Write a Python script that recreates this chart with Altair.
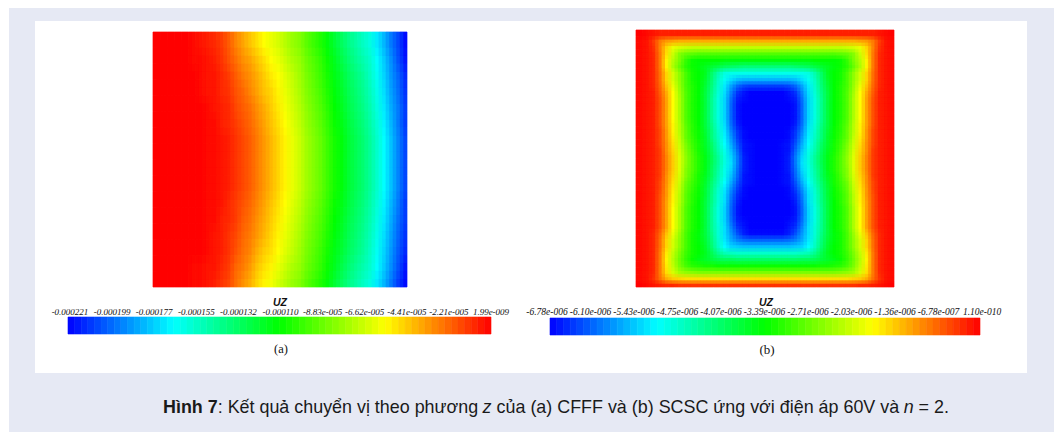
import altair as alt
import pandas as pd

# ---------------- data ----------------
# UZ field of panel (a) CFFF: 16 rows (top -> bottom) x 36 columns (left -> right),
# given as percent of the colour-bar range (0 = -0.000221, 100 = 1.99e-009)
uz_a_pct = [
    [100,100,100,100,100,99,98,97,96,94,91,87,84,81,78,75,73,71,68,65,63,59,56,53,49,45,41,37,34,31,28,23,18,12,7,1],
    [100,100,100,100,100,99,99,98,97,95,92,89,86,84,81,78,75,73,70,67,65,61,58,55,51,47,43,39,36,33,30,25,20,14,8,2],
    [100,100,100,100,100,100,99,98,98,96,94,91,88,86,83,80,77,75,72,69,66,62,59,56,52,48,45,41,38,35,31,26,21,15,10,4],
    [100,100,100,100,100,100,99,98,98,96,95,92,90,87,84,81,79,76,73,70,67,63,60,57,53,49,46,42,39,36,32,27,22,16,11,5],
    [100,100,100,100,100,100,100,99,98,97,96,93,91,89,86,83,80,77,74,71,68,64,61,58,54,50,47,43,40,37,33,28,23,17,12,6],
    [100,100,100,100,100,100,100,99,99,97,96,94,92,90,87,84,81,78,75,72,69,65,62,59,55,51,48,44,41,38,34,29,24,18,12,6],
    [100,100,100,100,100,100,100,99,99,98,97,95,93,91,88,85,82,79,76,73,70,66,63,60,56,52,49,45,42,39,35,30,25,19,13,7],
    [100,100,100,100,100,100,100,99,99,98,97,95,93,91,88,85,82,79,76,73,70,66,63,60,56,52,49,45,42,39,35,30,25,19,13,7],
    [100,100,100,100,100,100,100,99,99,98,97,95,93,91,88,85,82,79,76,73,70,66,63,60,56,52,49,45,42,39,35,30,25,19,13,7],
    [100,100,100,100,100,100,100,99,99,98,97,95,93,91,88,85,82,79,76,73,70,66,63,60,56,52,49,45,42,39,35,30,25,19,13,7],
    [100,100,100,100,100,100,100,99,99,98,96,94,92,90,87,84,81,78,75,72,69,65,62,59,55,51,48,44,41,38,34,29,24,18,12,6],
    [100,100,100,100,100,100,100,99,99,97,96,94,91,89,86,83,80,77,74,71,68,64,61,58,54,50,47,43,40,37,33,28,23,17,11,6],
    [100,100,100,100,100,100,100,99,98,97,95,93,90,88,85,82,79,76,73,70,67,63,60,57,53,49,46,42,39,36,32,27,22,16,10,5],
    [100,100,100,100,100,100,100,99,98,97,95,92,89,87,83,80,78,75,72,69,66,62,59,56,52,48,45,41,38,35,31,26,21,15,9,4],
    [100,100,100,100,100,99,99,98,98,96,94,90,88,85,81,78,76,73,70,67,65,61,58,55,51,47,43,39,36,33,30,25,20,14,8,2],
    [100,100,100,100,100,99,99,98,97,95,93,89,86,83,79,76,74,71,68,65,63,59,56,53,49,45,41,37,34,31,28,23,18,12,6,1],
]

# UZ field of panel (b) SCSC: 40 rows (top -> bottom) x 40 columns,
# percent of the colour-bar range (0 = -6.78e-006, 100 = 1.10e-010)
uz_b_pct = [
    [100,99,98,97,97,97,97,97,97,97,97,97,97,97,97,97,97,97,97,97,97,97,97,97,97,97,97,97,97,97,97,97,97,97,97,97,97,98,99,100],
    [99,98,94,88,85,84,83,83,83,83,83,83,83,83,83,83,83,83,83,83,83,83,83,83,83,83,83,83,83,83,83,83,83,83,84,85,88,94,98,99],
    [99,98,95,87,79,73,71,70,69,69,69,69,69,69,69,69,69,69,69,69,69,69,69,69,69,69,69,69,69,69,69,69,70,71,73,79,87,95,98,99],
    [99,98,96,88,78,70,63,60,59,58,58,58,58,58,58,58,58,58,58,58,58,58,58,58,58,58,58,58,58,58,58,59,60,63,70,78,88,96,98,99],
    [99,98,96,88,76,68,62,55,51,50,50,50,50,49,49,49,49,49,49,49,49,49,49,49,49,49,49,50,50,50,50,51,55,62,68,76,88,96,98,99],
    [99,98,96,88,76,67,60,54,51,49,47,45,43,41,40,39,38,38,38,38,38,38,38,38,39,40,41,43,45,47,49,51,54,60,67,76,88,96,98,99],
    [99,98,96,89,79,71,64,57,52,50,47,40,33,28,27,27,27,27,27,27,27,27,27,27,27,27,28,33,40,47,50,52,57,64,71,79,89,96,98,99],
    [99,98,96,89,79,71,64,57,52,50,46,39,31,26,22,19,18,18,18,18,18,18,18,18,19,22,26,31,39,46,50,52,57,64,71,79,89,96,98,99],
    [99,98,96,90,81,73,65,57,53,50,45,38,30,23,16,10,7,6,6,6,6,6,6,7,10,16,23,30,38,45,50,53,57,65,73,81,90,96,98,99],
    [99,98,97,91,83,75,66,58,53,50,44,37,29,22,13,5,2,0,0,0,0,0,0,2,5,13,22,29,37,44,50,53,58,66,75,83,91,97,98,99],
    [99,98,97,92,84,75,67,58,53,50,44,36,28,21,11,3,1,0,0,0,0,0,0,1,3,11,21,28,36,44,50,53,58,67,75,84,92,97,98,99],
    [99,98,97,92,84,75,67,58,53,50,44,36,28,21,10,2,0,0,0,0,0,0,0,0,2,10,21,28,36,44,50,53,58,67,75,84,92,97,98,99],
    [99,98,97,92,84,75,67,58,53,50,44,36,28,21,10,2,0,0,0,0,0,0,0,0,2,10,21,28,36,44,50,53,58,67,75,84,92,97,98,99],
    [99,98,97,92,84,75,67,58,53,50,44,36,28,21,10,2,0,0,0,0,0,0,0,0,2,10,21,28,36,44,50,53,58,67,75,84,92,97,98,99],
    [99,98,97,92,84,76,68,59,54,50,44,37,29,22,11,3,0,0,0,0,0,0,0,0,3,11,22,29,37,44,50,54,59,68,76,84,92,97,98,99],
    [99,98,97,93,85,76,68,60,54,51,45,38,30,23,13,5,1,0,0,0,0,0,0,1,5,13,23,30,38,45,51,54,60,68,76,85,93,97,98,99],
    [99,98,97,93,85,77,69,60,55,51,46,38,31,24,15,6,1,0,0,0,0,0,0,1,6,15,24,31,38,46,51,55,60,69,77,85,93,97,98,99],
    [99,98,97,93,86,78,70,62,56,52,46,40,32,25,17,8,2,1,0,0,0,0,1,2,8,17,25,32,40,46,52,56,62,70,78,86,93,97,98,99],
    [99,98,97,94,86,79,71,63,57,52,47,41,33,27,19,10,2,1,0,0,0,0,1,2,10,19,27,33,41,47,52,57,63,71,79,86,94,97,98,99],
    [99,98,97,94,87,80,72,64,58,53,48,42,35,28,21,12,3,1,0,0,0,0,1,3,12,21,28,35,42,48,53,58,64,72,80,87,94,97,98,99],
    [99,98,97,94,87,80,72,64,58,53,48,42,35,28,22,12,3,1,0,0,0,0,1,3,12,22,28,35,42,48,53,58,64,72,80,87,94,97,98,99],
    [99,98,97,94,87,80,72,63,58,53,48,41,34,27,21,11,3,1,0,0,0,0,1,3,11,21,27,34,41,48,53,58,63,72,80,87,94,97,98,99],
    [99,98,97,94,86,79,71,63,57,52,47,41,33,27,19,10,2,1,0,0,0,0,1,2,10,19,27,33,41,47,52,57,63,71,79,86,94,97,98,99],
    [99,98,97,93,86,78,70,61,56,52,46,39,32,25,17,8,2,1,0,0,0,0,1,2,8,17,25,32,39,46,52,56,61,70,78,86,93,97,98,99],
    [99,98,97,93,85,77,69,60,55,51,45,38,30,23,14,6,1,0,0,0,0,0,0,1,6,14,23,30,38,45,51,55,60,69,77,85,93,97,98,99],
    [99,98,97,92,85,76,68,59,54,51,45,37,29,22,12,4,1,0,0,0,0,0,0,1,4,12,22,29,37,45,51,54,59,68,76,85,92,97,98,99],
    [99,98,97,92,84,76,68,59,54,50,44,37,29,22,11,3,0,0,0,0,0,0,0,0,3,11,22,29,37,44,50,54,59,68,76,84,92,97,98,99],
    [99,98,97,92,84,75,67,58,53,50,44,36,28,21,10,2,0,0,0,0,0,0,0,0,2,10,21,28,36,44,50,53,58,67,75,84,92,97,98,99],
    [99,98,97,92,84,75,67,58,53,50,44,36,28,21,10,2,0,0,0,0,0,0,0,0,2,10,21,28,36,44,50,53,58,67,75,84,92,97,98,99],
    [99,98,97,92,84,75,67,58,53,50,44,36,28,21,11,3,1,0,0,0,0,0,0,1,3,11,21,28,36,44,50,53,58,67,75,84,92,97,98,99],
    [99,98,97,92,84,75,67,58,53,50,44,36,29,22,13,5,2,0,0,0,0,0,0,2,5,13,22,29,36,44,50,53,58,67,75,84,92,97,98,99],
    [99,98,96,90,81,73,65,57,52,49,44,37,29,22,15,8,3,1,1,1,1,1,1,3,8,15,22,29,37,44,49,52,57,65,73,81,90,96,98,99],
    [99,98,96,89,79,71,64,57,52,49,45,38,30,23,17,13,11,10,10,10,10,10,10,11,13,17,23,30,38,45,49,52,57,64,71,79,89,96,98,99],
    [99,98,96,89,79,71,64,57,52,50,46,39,31,25,21,20,19,19,19,19,19,19,19,19,20,21,25,31,39,46,50,52,57,64,71,79,89,96,98,99],
    [99,98,96,88,77,69,62,56,52,50,47,42,36,32,31,30,30,30,30,30,30,30,30,30,30,31,32,36,42,47,50,52,56,62,69,77,88,96,98,99],
    [99,98,96,88,76,68,61,55,51,48,46,44,42,41,41,40,40,40,40,40,40,40,40,40,40,41,41,42,44,46,48,51,55,61,68,76,88,96,98,99],
    [99,98,96,88,77,69,62,57,54,53,52,52,51,51,51,51,51,51,51,51,51,51,51,51,51,51,51,51,52,52,53,54,57,62,69,77,88,96,98,99],
    [99,98,96,88,78,71,66,64,63,62,62,62,62,62,62,62,62,62,62,62,62,62,62,62,62,62,62,62,62,62,62,63,64,66,71,78,88,96,98,99],
    [99,98,95,89,83,80,79,78,78,78,78,78,78,78,78,78,78,78,78,78,78,78,78,78,78,78,78,78,78,78,78,78,78,79,80,83,89,95,98,99],
    [100,99,98,97,96,96,95,95,95,95,95,95,95,95,95,95,95,95,95,95,95,95,95,95,95,95,95,95,95,95,95,95,95,95,96,96,97,98,99,100],
]

ticks_a = ["-0.000221", "-0.000199", "-0.000177", "-0.000155", "-0.000132", "-0.000110",
           "-8.83e-005", "-6.62e-005", "-4.41e-005", "-2.21e-005", "1.99e-009"]
ticks_b = ["-6.78e-006", "-6.10e-006", "-5.43e-006", "-4.75e-006", "-4.07e-006", "-3.39e-006",
           "-2.71e-006", "-2.03e-006", "-1.36e-006", "-6.78e-007", "1.10e-010"]
field_name = "UZ"
panel_names = ["(a)", "(b)"]
caption_bold = "Hình 7"
caption_1 = ": Kết quả chuyển vị theo phương"
caption_z = "z"
caption_2 = "của (a) CFFF và (b) SCSC ứng với điện áp 60V và"
caption_n = "n"
caption_3 = "= 2."

# ---------------- styling ----------------
RAINBOW_DOMAIN = [0, 25, 50, 75, 100]
RAINBOW = ["#0000ff", "#00ffff", "#00ff00", "#ffff00", "#ff0000"]
LAVENDER = "#e6e9f4"


def rainbow():
    return alt.Scale(domain=RAINBOW_DOMAIN, range=RAINBOW, interpolate="rgb", clamp=True)


def grid_frame(rows):
    recs = []
    for r, row in enumerate(rows):
        for c, v in enumerate(row):
            recs.append({"col": c, "row": r, "v": v})
    return pd.DataFrame(recs)


def heatmap_layers(rows, xr, yr):
    """Cells drawn once opaque, then three half-cell-shifted translucent passes of the
    same cells, which blends neighbouring cells (a display-only smoothing)."""
    df = grid_frame(rows)
    ncol = len(rows[0])
    nrow = len(rows)

    def one(dx, dy, opacity, stroked):
        base = alt.Chart(df).transform_calculate(
            x0=f"datum.col + {dx}",
            x1=f"min(datum.col + 1 + {dx}, {ncol})",
            y0=f"datum.row + {dy}",
            y1=f"min(datum.row + 1 + {dy}, {nrow})",
        )
        enc = dict(
            x=alt.X("x0:Q", scale=alt.Scale(domain=[0, ncol], range=xr, nice=False, zero=False), axis=None),
            x2="x1:Q",
            y=alt.Y("y0:Q", scale=alt.Scale(domain=[0, nrow], range=yr, nice=False, zero=False), axis=None),
            y2="y1:Q",
            color=alt.Color("v:Q", scale=rainbow(), legend=None),
        )
        if stroked:
            enc["stroke"] = alt.Stroke("v:Q", scale=rainbow(), legend=None)
            return base.mark_rect(strokeWidth=0.7).encode(**enc)
        return base.mark_rect(opacity=opacity).encode(**enc)

    return [one(0, 0, 1, True), one(0.5, 0, 0.5, False), one(0, 0.5, 1 / 3, False), one(0.5, 0.5, 0.25, False)]


def colorbar(xr, y0, y1):
    step = 100 / 64
    return (
        alt.Chart(alt.sequence(0, 100, step, as_="lv"))
        .transform_calculate(lv2=f"datum.lv + {step}", mid=f"datum.lv + {step / 2}")
        .mark_rect(strokeWidth=0.6)
        .encode(
            x=alt.X("lv:Q", scale=alt.Scale(domain=[0, 100], range=xr, nice=False, zero=False), axis=None),
            x2="lv2:Q",
            y=alt.value(y0),
            y2=alt.value(y1),
            color=alt.Color("mid:Q", scale=rainbow(), legend=None),
            stroke=alt.Stroke("mid:Q", scale=rainbow(), legend=None),
        )
    )


def tick_labels(labels, xr, y, size):
    df = pd.DataFrame({"i": list(range(len(labels))), "lab": labels})
    return (
        alt.Chart(df)
        .mark_text(font="Liberation Serif", fontStyle="italic", fontSize=size, align="center",
                   baseline="middle", color="#111111")
        .encode(
            x=alt.X("i:Q", scale=alt.Scale(domain=[0, len(labels) - 1], range=xr, nice=False, zero=False), axis=None),
            y=alt.value(y),
            text="lab:N",
        )
    )


def box(x0, x1, y0, y1, color):
    return alt.Chart(alt.Data(values=[{"k": 0}])).mark_rect(color=color).encode(
        x=alt.value(x0), x2=alt.value(x1), y=alt.value(y0), y2=alt.value(y1)
    )


def label(txt, x, y, **kw):
    return alt.Chart(alt.Data(values=[{"t": txt}])).mark_text(**kw).encode(
        x=alt.value(x), y=alt.value(y), text="t:N"
    )


CAP = dict(font="Liberation Sans", fontSize=17.9, baseline="middle", align="left", color="#1a1a1a")

layers = [
    box(9, 1054, 8, 432, LAVENDER),
    box(35, 1027, 21, 373, "#ffffff"),
    *heatmap_layers(uz_a_pct, [153, 407], [32, 287]),
    *heatmap_layers(uz_b_pct, [636, 894], [30, 287]),
    colorbar([68, 491], 317, 334),
    colorbar([550, 980], 318, 335),
    tick_labels(ticks_a, [70, 491], 311.5, 9),
    tick_labels(ticks_b, [547, 982], 311.5, 9.5),
    label(field_name, 280, 303, font="Liberation Sans", fontSize=10.5, fontWeight="bold",
          fontStyle="italic", align="center", baseline="middle", color="#111111"),
    label(field_name, 766, 303, font="Liberation Sans", fontSize=10.5, fontWeight="bold",
          fontStyle="italic", align="center", baseline="middle", color="#111111"),
    label(panel_names[0], 281, 349, font="Liberation Serif", fontSize=12.5, align="center",
          baseline="middle", color="#111111"),
    label(panel_names[1], 767, 350, font="Liberation Serif", fontSize=13, align="center",
          baseline="middle", color="#111111"),
    label(caption_bold, 163, 408, fontWeight="bold", **CAP),
    label(caption_1, 217.7, 408, **CAP),
    label(caption_z, 482.6, 408, fontStyle="italic", **CAP),
    label(caption_2, 496.6, 408, **CAP),
    label(caption_n, 903.7, 408, fontStyle="italic", **CAP),
    label(caption_3, 918.6, 408, **CAP),
]

chart = (
    alt.layer(*layers)
    .resolve_scale(x="independent", y="independent", color="independent", stroke="independent")
    .properties(width=1057, height=432, padding=0, background="white",
                autosize=alt.AutoSizeParams(type="none"))
    .configure_view(stroke=None)
)

chart.save("out.html", embed_options={"renderer": "svg", "actions": False})
